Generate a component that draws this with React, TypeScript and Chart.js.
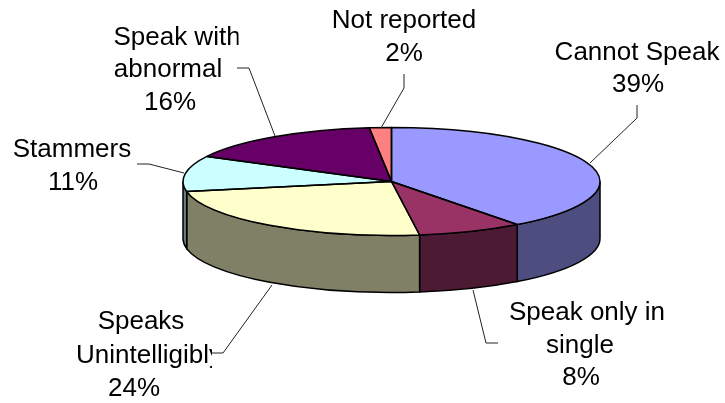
import React, { useEffect, useRef } from "react";
import { Chart, registerables } from "chart.js";

Chart.register(...registerables);

const categories = ["Cannot Speak", "Speak only in single", "Speaks Unintelligibly", "Stammers", "Speak with abnormal", "Not reported"];
const values = [39.7, 8.15, 24.15, 10.7, 15.6, 1.7];
const percentLabels = ["39%", "8%", "24%", "11%", "16%", "2%"];
const topColors = ["#9999FF", "#993366", "#FFFFCC", "#CCFFFF", "#660066", "#FF8080"];
const wallColors = ["#4D4D80", "#4D1A33", "#808066", "#668080", "#330033", "#804040"];

const FONT = '26px "Liberation Sans", Arial, sans-serif';
const RY_RATIO = 54 / 208.5;
const DEPTH = 57;

type Lay = { lines: string[]; x: number[]; y: number[]; pctX: number; clipRight?: number; leader: number[][] };
const layouts: Lay[] = [
  { lines: ["Cannot Speak"], x: [637], y: [60, 92], pctX: 638, leader: [[637, 105], [637, 118], [590, 163]] },
  { lines: ["Speak only in", "single"], x: [587, 580], y: [320, 353, 385], pctX: 581, clipRight: 664, leader: [[473, 290], [486, 343], [498, 343]] },
  { lines: ["Speaks", "Unintelligibly"], x: [141, 149], y: [329, 363, 396], pctX: 134, clipRight: 212, leader: [[272, 285], [223, 353], [212, 353]] },
  { lines: ["Stammers"], x: [72], y: [157, 190], pctX: 73, leader: [[137, 164], [149, 164], [184, 173]] },
  { lines: ["Speak with", "abnormal"], x: [177, 168], y: [45, 77, 110], pctX: 170, clipRight: 238.5, leader: [[237, 68], [249, 68], [275, 136]] },
  { lines: ["Not reported"], x: [404], y: [28, 61], pctX: 404, leader: [[404, 74], [404, 88], [381, 128]] },
];

const pie3d = {
  id: "pie3d",
  beforeDatasetDraw(chart: any, args: any) {
    const ctx = chart.ctx;
    const arcs = args.meta.data;
    const { x: cx, y: cy, outerRadius: rx } = arcs[0];
    const ry = rx * RY_RATIO;
    // side walls of the visible front half
    arcs.forEach((arc: any, i: number) => {
      const a = Math.max(arc.startAngle, 0);
      const b = Math.min(arc.endAngle, Math.PI);
      if (b <= a) return;
      ctx.beginPath();
      ctx.ellipse(cx, cy, rx, ry, 0, a, b);
      ctx.ellipse(cx, cy + DEPTH, rx, ry, 0, b, a, true);
      ctx.closePath();
      ctx.fillStyle = wallColors[i];
      ctx.fill();
      ctx.strokeStyle = "#000";
      ctx.lineWidth = 1.5;
      ctx.stroke();
    });
    ctx.save();
    ctx.translate(cx, cy);
    ctx.scale(1, RY_RATIO);
    ctx.translate(-cx, -cy);
  },
  afterDatasetDraw(chart: any, args: any) {
    const ctx = chart.ctx;
    ctx.restore();
    const arcs = args.meta.data;
    const { x: cx, y: cy, outerRadius: rx } = arcs[0];
    const ry = rx * RY_RATIO;
    ctx.strokeStyle = "#000";
    ctx.lineWidth = 1.5;
    ctx.lineJoin = "round";
    arcs.forEach((arc: any) => {
      ctx.beginPath();
      ctx.moveTo(cx, cy);
      ctx.ellipse(cx, cy, rx, ry, 0, arc.startAngle, arc.endAngle);
      ctx.closePath();
      ctx.stroke();
    });
  },
  afterDraw(chart: any) {
    const ctx = chart.ctx;
    ctx.save();
    ctx.font = FONT;
    ctx.textAlign = "center";
    ctx.textBaseline = "alphabetic";
    layouts.forEach((l, i) => {
      ctx.strokeStyle = "#222";
      ctx.lineWidth = 1;
      ctx.beginPath();
      l.leader.forEach((p, k) => (k ? ctx.lineTo(p[0], p[1]) : ctx.moveTo(p[0], p[1])));
      ctx.stroke();
      ctx.save();
      if (l.clipRight) {
        ctx.beginPath();
        ctx.rect(0, 0, l.clipRight, 403);
        ctx.clip();
      }
      ctx.fillStyle = "#000";
      l.lines.forEach((t, k) => ctx.fillText(t, l.x[k], l.y[k]));
      ctx.restore();
      ctx.fillStyle = "#000";
      ctx.fillText(percentLabels[i], l.pctX, l.y[l.y.length - 1]);
    });
    ctx.restore();
  },
};

export default function App() {
  const ref = useRef<HTMLCanvasElement>(null);
  useEffect(() => {
    const chart = new Chart(ref.current!, {
      type: "pie",
      data: {
        labels: categories,
        datasets: [{ data: values, backgroundColor: topColors, borderWidth: 0, clip: false } as any],
      },
      options: {
        animation: false,
        responsive: false,
        radius: 208.5,
        layout: { padding: { left: 58, right: 0, top: 0, bottom: 40 } },
        plugins: { legend: { display: false }, tooltip: { enabled: false } },
      } as any,
      plugins: [pie3d],
    });
    return () => chart.destroy();
  }, []);
  return (
    <canvas ref={ref} width={725} height={403} style={{ position: "absolute", left: 0, top: 0, width: 725, height: 403 }} />
  );
}
